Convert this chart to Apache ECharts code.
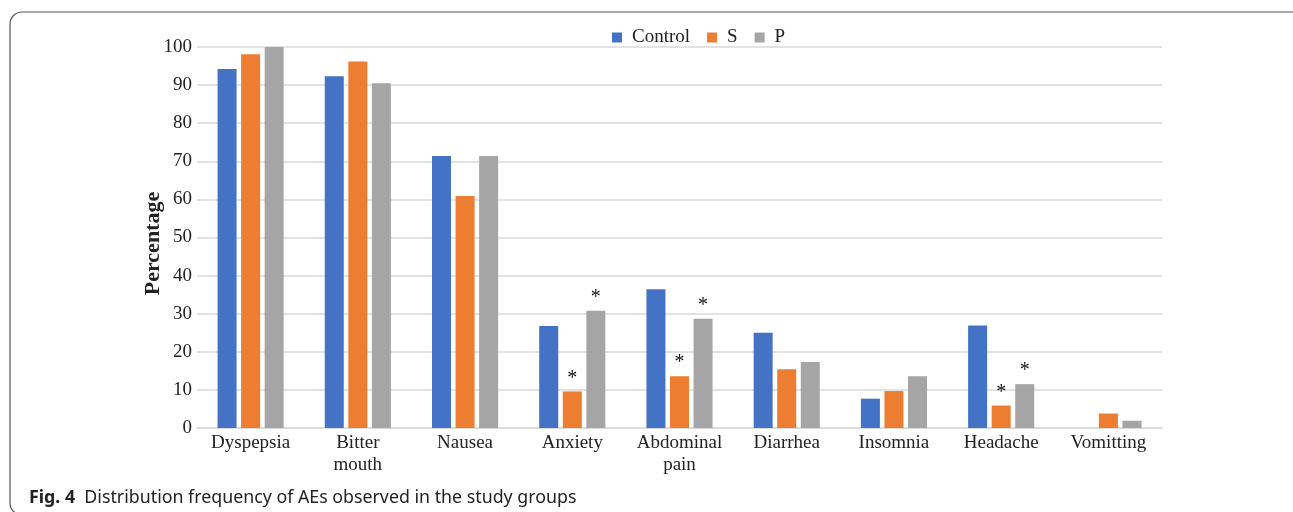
<!DOCTYPE html>
<html>
<head>
<meta charset="utf-8">
<script src="https://cdn.jsdelivr.net/npm/echarts@6/dist/echarts.min.js"></script>
<style>
  html, body { margin: 0; padding: 0; background: #fff; }
  #chart { width: 1293px; height: 512px; }
</style>
</head>
<body>
<div id="chart"></div>
<script>
// adverse events, percentage per group
const categories = ['Dyspepsia', 'Bitter\nmouth', 'Nausea', 'Anxiety', 'Abdominal\npain', 'Diarrhea', 'Insomnia', 'Headache', 'Vomitting']
const controlVals = [94.2, 92.3, 71.4, 26.8, 36.4, 25.0, 7.7, 26.9, 0]
const sVals = [98.1, 96.2, 60.9, 9.6, 13.6, 15.4, 9.7, 5.9, 3.8]
const pVals = [100, 90.5, 71.4, 30.8, 28.7, 17.3, 13.6, 11.5, 1.9]
// significant vs control (asterisk), index into categories
const sStars = [3, 4, 7]
const pStars = [3, 4, 7]

const serif = 'Liberation Serif'

function withStars(vals, stars) {
  return vals.map(function(v, i) {
    if (stars.indexOf(i) >= 0) {
      return {
        value: v,
        label: {
          show: true,
          position: 'top',
          distance: 3,
          formatter: '*',
          fontFamily: serif,
          fontSize: 20,
          color: '#111'
        }
      }
    }
    return v
  })
}

const chart = echarts.init(document.getElementById('chart'))
const option = {
  animation: false,
  title: {
    text: '{b|Fig. 4}  Distribution frequency of AEs observed in the study groups',
    left: 24,
    top: 484,
    textStyle: {
      fontFamily: 'Noto Sans',
      fontSize: 17.8,
      fontWeight: 'normal',
      color: '#222',
      rich: {
        b: { fontFamily: 'Noto Sans', fontSize: 17.8, fontWeight: 'bold', color: '#222' }
      }
    }
  },
  graphic: [{
    type: 'rect',
    shape: { x: 10, y: 12, width: 1300, height: 503, r: 12 },
    style: { fill: 'none', stroke: '#555', lineWidth: 1.2 },
    silent: true,
    z: -10
  }],
  legend: {
    data: ['Control', 'S', 'P'],
    top: 23,
    left: 607,
    itemWidth: 10,
    itemHeight: 10,
    itemGap: 17,
    icon: 'rect',
    textStyle: { fontFamily: serif, fontSize: 19, color: '#222', padding: [0, 0, 0, 5] }
  },
  grid: {
    left: 197,
    right: 131,
    top: 47,
    bottom: 84
  },
  xAxis: {
    type: 'category',
    data: categories,
    axisLine: { show: true, lineStyle: { color: '#d9d9d9', width: 1.5 } },
    axisTick: { show: false },
    axisLabel: {
      fontFamily: serif,
      fontSize: 19,
      color: '#222',
      margin: 4,
      lineHeight: 22,
      interval: 0
    }
  },
  yAxis: {
    type: 'value',
    min: 0,
    max: 100,
    interval: 10,
    name: 'Percentage',
    nameLocation: 'middle',
    nameGap: 33,
    nameMoveOverlap: false,
    nameTextStyle: { fontFamily: serif, fontSize: 22, fontWeight: 'bold', color: '#222', padding: [0, 12, 0, 0] },
    axisLine: { show: false },
    axisTick: { show: false },
    axisLabel: { fontFamily: serif, fontSize: 19, color: '#222', margin: 5 },
    splitLine: { lineStyle: { color: '#d9d9d9', width: 1.5 } }
  },
  series: [
    {
      name: 'Control',
      type: 'bar',
      data: controlVals,
      barWidth: 19,
      barGap: '24%',
      itemStyle: { color: '#4472C4' }
    },
    {
      name: 'S',
      type: 'bar',
      data: withStars(sVals, sStars),
      barWidth: 19,
      barGap: '24%',
      itemStyle: { color: '#ED7D31' }
    },
    {
      name: 'P',
      type: 'bar',
      data: withStars(pVals, pStars),
      barWidth: 19,
      barGap: '24%',
      itemStyle: { color: '#A5A5A5' }
    }
  ]
}
chart.setOption(option)
</script>
</body>
</html>
